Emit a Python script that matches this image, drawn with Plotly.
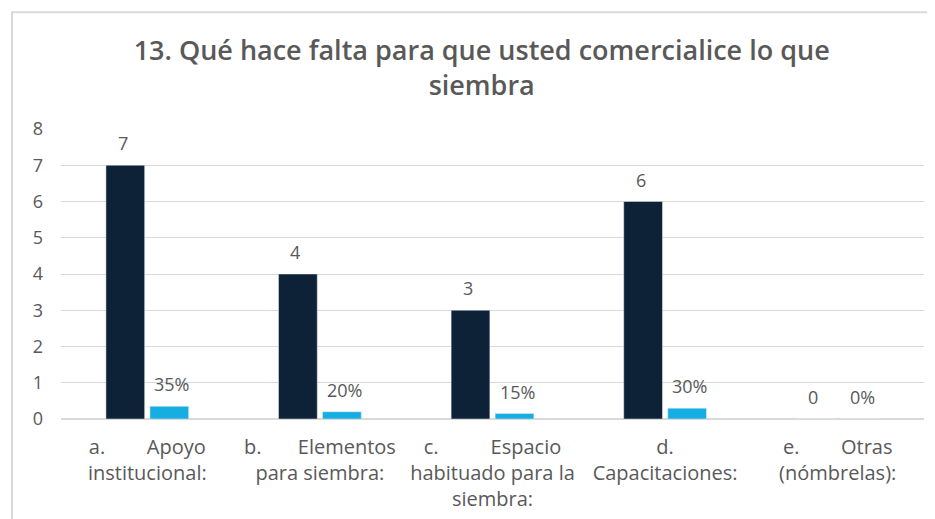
import plotly.graph_objects as go

# ------------------------------------------------------------------ #
# Data                                                               #
# ------------------------------------------------------------------ #
NB = "\u00a0"
categories = [
    f"a.{NB * 8}Apoyo<br>institucional:",
    f"b.{NB * 7}Elementos<br>para siembra:",
    f"c.{NB * 10}Espacio<br>habituado para la<br>siembra:",
    "d.<br>Capacitaciones:",
    f"e.{NB * 8}Otras<br>(nómbrelas):",
]
counts = [7, 4, 3, 6, 0]
shares = [0.35, 0.20, 0.15, 0.30, 0.0]
y_ticks = [0, 1, 2, 3, 4, 5, 6, 7, 8]

TITLE = "13. Qué hace falta para que usted comercialice lo que<br>siembra"
FONT = "Open Sans, sans-serif"
GREY = "#595959"
DARK = "#0d2137"
CYAN = "#16aee0"

fig = go.Figure()
fig.add_trace(go.Bar(x=categories, y=counts, name="Cantidad", marker_color=DARK))
fig.add_trace(go.Bar(x=categories, y=shares, name="Porcentaje", marker_color=CYAN))

# data labels placed above each bar (offset to the bar's slot in the group)
annotations = []
for cat, c, s in zip(categories, counts, shares):
    annotations.append(
        dict(x=cat, y=c, text=f"{c}", showarrow=False, xshift=-24.5, yshift=22,
             yanchor="middle", font=dict(size=18, color=GREY, family=FONT))
    )
    annotations.append(
        dict(x=cat, y=s, text=f"{s:.0%}", showarrow=False, xshift=24.5, yshift=22,
             yanchor="middle", font=dict(size=18, color=GREY, family=FONT))
    )

fig.update_layout(
    width=927,
    height=511,
    margin=dict(l=53, r=11, t=121, b=100),
    paper_bgcolor="white",
    plot_bgcolor="white",
    barmode="group",
    bargap=0.49,
    bargroupgap=0.12,
    showlegend=False,
    font=dict(family=FONT, color=GREY, size=18),
    annotations=annotations,
    title=dict(
        text=TITLE,
        x=0.511,
        xanchor="center",
        y=0.8975,
        yanchor="top",
        font=dict(size=27, color=GREY, family=FONT, weight=600),
    ),
    shapes=[
        dict(
            type="rect",
            xref="paper",
            yref="paper",
            x0=-0.0568,
            x1=1.2,
            y0=-0.6,
            y1=1.403,
            line=dict(color="#d9d9d9", width=2),
            layer="below",
        )
    ],
)
fig.update_xaxes(
    automargin=False,
    showline=False,
    ticks="",
    tickangle=0,
    ticklabelstandoff=14,
    tickfont=dict(size=20, color=GREY),
)
fig.update_yaxes(
    automargin=False,
    range=[0, 8],
    tickvals=y_ticks,
    showgrid=True,
    gridcolor="#d9d9d9",
    zeroline=True,
    zerolinecolor="#d9d9d9",
    ticks="",
    ticklabelstandoff=17,
    tickfont=dict(size=18, color=GREY),
)

fig.write_html("out.html")
